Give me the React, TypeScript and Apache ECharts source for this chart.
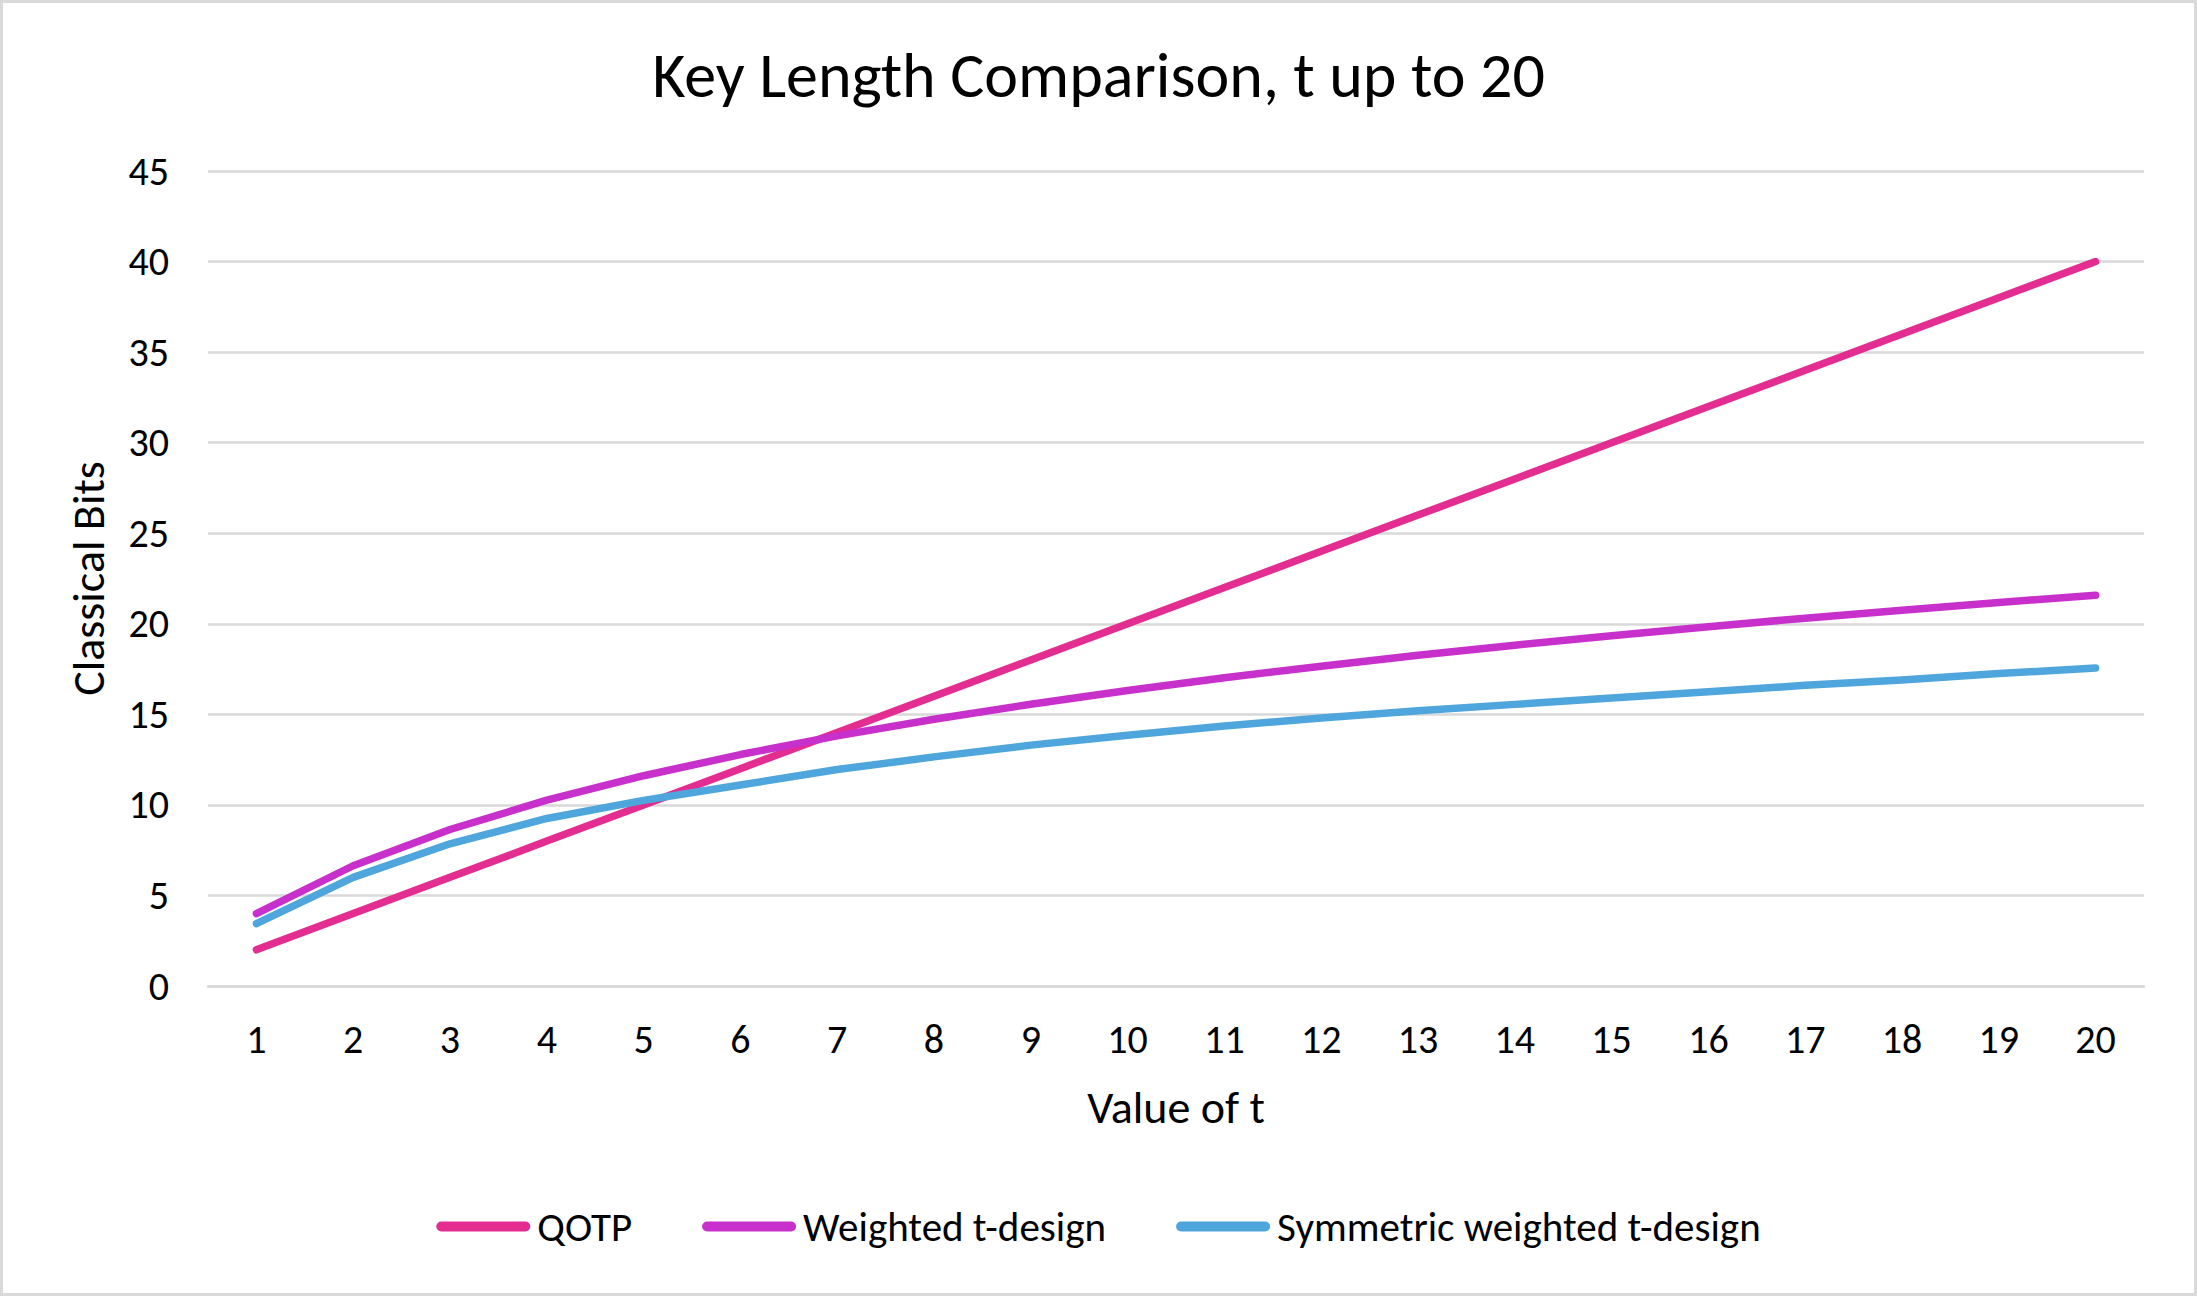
import React, { useEffect, useRef } from "react";
import * as echarts from "echarts";

const tLabels = ["1", "2", "3", "4", "5", "6", "7", "8", "9", "10", "11", "12", "13", "14", "15", "16", "17", "18", "19", "20"];
const qotp = [2, 4, 6, 8, 10, 12, 14, 16, 18, 20, 22, 24, 26, 28, 30, 32, 34, 36, 38, 40];
const weighted = [4.0, 6.64, 8.64, 10.26, 11.61, 12.78, 13.81, 14.73, 15.56, 16.32, 17.02, 17.66, 18.26, 18.82, 19.34, 19.84, 20.31, 20.75, 21.18, 21.58];
const symmetric = [3.45, 6.0, 7.85, 9.25, 10.25, 11.1, 11.95, 12.65, 13.3, 13.85, 14.35, 14.8, 15.2, 15.55, 15.9, 16.25, 16.6, 16.9, 17.25, 17.56];
const seriesNames = ["QOTP", "Weighted t-design", "Symmetric weighted t-design"];
const colors = ["#E32D91", "#C830CC", "#4EA6DC"];

const FONT = "Calibri, Carlito, Lato, sans-serif";

export default function App() {
  const ref = useRef<HTMLDivElement>(null);
  useEffect(() => {
    if (!ref.current) return;
    const chart = echarts.init(ref.current, undefined, { renderer: "svg" });
    const capsule = "path://M5,0 L89,0 A5,5 0 0 1 89,10 L5,10 A5,5 0 0 1 5,0 Z";
    const values = [qotp, weighted, symmetric];
    chart.setOption({
      animation: false,
      backgroundColor: "#ffffff",
      textStyle: { fontFamily: FONT, color: "#000" },
      title: {
        text: "Key Length Comparison, t up to 20",
        left: "center",
        top: 38,
        textStyle: { fontFamily: FONT, fontSize: 64, fontWeight: "normal", color: "#000" },
      },
      graphic: [
        {
          type: "rect",
          shape: { x: 1.5, y: 1.5, width: 2194, height: 1293 },
          style: { fill: "none", stroke: "#d9d9d9", lineWidth: 3 },
          silent: true,
        },
      ],
      legend: {
        bottom: 44,
        left: "center",
        itemWidth: 94,
        itemHeight: 10,
        itemGap: 70,
        icon: capsule,
        textStyle: { fontFamily: FONT, fontSize: 41, color: "#000", padding: [0, 0, 0, 2] },
        data: seriesNames,
      },
      grid: { left: 208, right: 53, top: 171, bottom: 310, containLabel: false },
      xAxis: {
        type: "category",
        data: tLabels,
        boundaryGap: true,
        axisLine: { show: true, lineStyle: { color: "#d9d9d9", width: 2.5 } },
        axisTick: { show: false },
        axisLabel: { margin: 33, fontFamily: FONT, fontSize: 40, color: "#000" },
        name: "Value of t",
        nameLocation: "middle",
        nameGap: 98,
        nameTextStyle: { fontFamily: FONT, fontSize: 46, color: "#000" },
      },
      yAxis: {
        type: "value",
        min: 0,
        max: 45,
        interval: 5,
        axisLine: { show: false },
        axisTick: { show: false },
        splitLine: { show: true, lineStyle: { color: "#d9d9d9", width: 2.5 } },
        axisLabel: { margin: 39, fontFamily: FONT, fontSize: 40, color: "#000" },
        name: "Classical Bits",
        nameLocation: "middle",
        nameGap: 97,
        nameRotate: 90,
        nameTextStyle: { fontFamily: FONT, fontSize: 46, color: "#000" },
      },
      series: seriesNames.map((name, i) => ({
        name,
        type: "line",
        data: values[i],
        symbol: "none",
        showSymbol: false,
        smooth: false,
        color: colors[i],
        lineStyle: { width: 7.5, color: colors[i], cap: "round", join: "round" },
        itemStyle: { color: colors[i] },
      })),
    });
    return () => chart.dispose();
  }, []);
  return <div ref={ref} style={{ position: "absolute", left: 0, top: 0, width: 2197, height: 1296 }} />;
}
